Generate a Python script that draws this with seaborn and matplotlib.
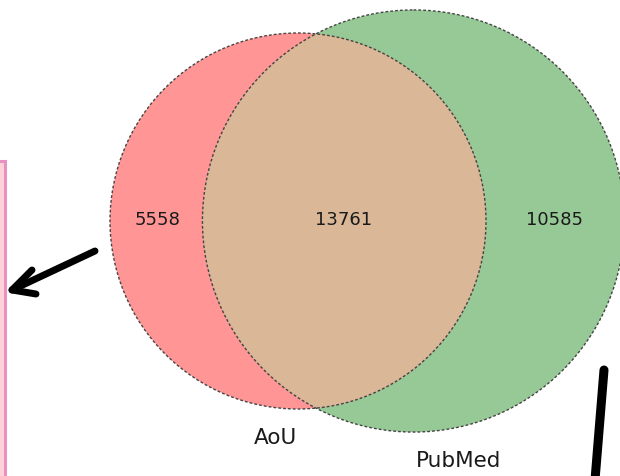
import numpy as np
import seaborn as sns
import matplotlib
matplotlib.use("Agg")
import matplotlib.pyplot as plt
from matplotlib.patches import Circle, Rectangle

# set sizes for the two-way venn
set_names = ["AoU", "PubMed"]
only_aou = 5558
both = 13761
only_pubmed = 10585
region_counts = [only_aou, both, only_pubmed]

colors = ["#FF9595", "#97C997", "#D9B797"]


def lens_area(r1, r2, d):
    a1 = np.arccos(np.clip((d * d + r1 * r1 - r2 * r2) / (2 * d * r1), -1, 1))
    a2 = np.arccos(np.clip((d * d + r2 * r2 - r1 * r1) / (2 * d * r2), -1, 1))
    k = (-d + r1 + r2) * (d + r1 - r2) * (d - r1 + r2) * (d + r1 + r2)
    return r1 * r1 * a1 + r2 * r2 * a2 - 0.5 * np.sqrt(max(k, 0))


def solve_distance(r1, r2, target):
    lo, hi = abs(r1 - r2) + 1e-6, r1 + r2
    for _ in range(100):
        mid = (lo + hi) / 2
        if lens_area(r1, r2, mid) > target:
            lo = mid
        else:
            hi = mid
    return (lo + hi) / 2


# area proportional circles
r_a = np.sqrt((only_aou + both) / np.pi)
r_b = np.sqrt((only_pubmed + both) / np.pi)
dist = solve_distance(r_a, r_b, both)

scale = 188 / r_a  # pixels per unit
ca = (298, 221)
cb = (ca[0] + dist * scale, 221)
ra, rb = r_a * scale, r_b * scale

sns.set_theme(style="white")
plt.rcParams["font.family"] = ["DejaVu Sans"]
fig = plt.figure(figsize=(6.2, 4.76), dpi=100)
ax = fig.add_axes([0, 0, 1, 1])
ax.set_xlim(0, 620)
ax.set_ylim(476, 0)
ax.set_aspect("equal")
ax.axis("off")

circle_b = Circle(cb, rb, facecolor=colors[1], edgecolor="none", zorder=1)
circle_a = Circle(ca, ra, facecolor=colors[0], edgecolor="none", zorder=2)
ax.add_patch(circle_b)
ax.add_patch(circle_a)
inter = Circle(cb, rb, facecolor=colors[2], edgecolor="none", zorder=3)
ax.add_patch(inter)
inter.set_clip_path(circle_a)

for c, r in [(ca, ra), (cb, rb)]:
    ax.add_patch(Circle(c, r, fill=False, edgecolor="#444444", lw=1.0,
                        linestyle=(0, (2, 1.5)), zorder=4))

# region counts
label_x = [157, 344, 555]
for x, n in zip(label_x, region_counts):
    ax.text(x, 220, str(n), ha="center", va="center", fontsize=13,
            color="#1a1a1a", zorder=5)

ax.text(275, 438, set_names[0], ha="center", va="center", fontsize=15.5,
        color="#1a1a1a")
ax.text(459, 461, set_names[1], ha="center", va="center", fontsize=15.5,
        color="#1a1a1a")

# slide decorations around the chart
ax.add_patch(Rectangle((-10, 161), 15, 330, facecolor="#FFD2D8",
                       edgecolor="#E892C2", lw=2.2, zorder=1))
ax.plot([95, 12], [251, 290], color="black", lw=5, solid_capstyle="round")
ax.plot([32, 12, 36], [270, 290, 294], color="black", lw=5,
        solid_capstyle="round", solid_joinstyle="round")
ax.plot([604, 595], [370, 480], color="black", lw=6.5)

fig.savefig("out.png", dpi=100)
